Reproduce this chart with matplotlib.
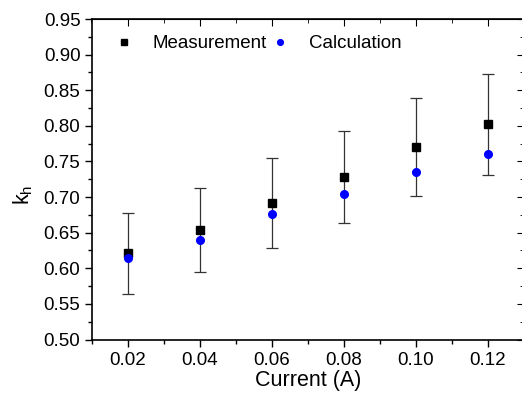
import numpy as np
import matplotlib.pyplot as plt

# data
current = [0.02, 0.04, 0.06, 0.08, 0.10, 0.12]
measurement = [0.621, 0.654, 0.692, 0.728, 0.770, 0.802]
meas_err = [0.057, 0.059, 0.063, 0.065, 0.069, 0.071]
calculation = [0.614, 0.640, 0.676, 0.704, 0.735, 0.760]

xticks = [0.02, 0.04, 0.06, 0.08, 0.10, 0.12]
yticks = np.arange(0.50, 0.951, 0.05)

plt.rcParams['font.family'] = ['Liberation Sans', 'DejaVu Sans']

fig = plt.figure(figsize=(5.22, 3.93), dpi=100)
ax = fig.add_axes([91.5 / 522, 1 - 339.5 / 393, (524 - 91.5) / 522, (339.5 - 19) / 393])

ax.errorbar(current, measurement, yerr=meas_err, fmt='none', ecolor='#333333',
            elinewidth=0.9, capsize=4, capthick=0.9, zorder=2)
ax.plot(current, measurement, 's', color='black', markersize=6, label='Measurement', zorder=3)
ax.plot(current, calculation, 'o', color='#0000ff', markersize=5.5, label='Calculation', zorder=4)

ax.set_xlim(0.01, 0.13)
ax.set_ylim(0.50, 0.95)
ax.set_xticks(xticks)
ax.set_xticklabels(['%.2f' % v for v in xticks])
ax.set_yticks(yticks)
ax.set_yticklabels(['%.2f' % v for v in yticks])
ax.set_xticks(np.arange(0.01, 0.131, 0.02), minor=True)
ax.set_yticks(np.arange(0.525, 0.95, 0.05), minor=True)

ax.tick_params(axis='both', which='both', labelsize=13.5, width=1)
ax.tick_params(axis='x', which='major', direction='out', length=5, top=False, pad=4)
ax.tick_params(axis='x', which='minor', direction='out', length=3, top=False)
ax.tick_params(axis='y', which='major', direction='out', length=5, right=False, pad=3)
ax.tick_params(axis='y', which='minor', direction='out', length=3, right=False)

# ticks on the top and right edges point inward
sec_x = ax.secondary_xaxis('top')
sec_x.set_xticks(xticks)
sec_x.set_xticks(np.arange(0.01, 0.131, 0.02), minor=True)
sec_x.tick_params(which='major', direction='in', length=5, labeltop=False)
sec_x.tick_params(which='minor', direction='in', length=3)
sec_y = ax.secondary_yaxis('right')
sec_y.set_yticks(yticks)
sec_y.set_yticks(np.arange(0.525, 0.95, 0.05), minor=True)
sec_y.tick_params(which='major', direction='in', length=5, labelright=False)
sec_y.tick_params(which='minor', direction='in', length=3)

for s in ax.spines.values():
    s.set_linewidth(1.2)

ax.set_xlabel('Current (A)', fontsize=15.5, labelpad=1)
ax.set_ylabel('k$_\\mathregular{h}$', fontsize=15.5)
ax.yaxis.set_label_coords(-0.13, 0.45)

ax.legend(loc='upper left', ncol=2, frameon=False, fontsize=13.5, handletextpad=1.0,
          columnspacing=0.25, borderaxespad=0.0, markerscale=0.75, handlelength=1.0,
          bbox_to_anchor=(0.036, 0.9725))

fig.savefig('out.png', dpi=100)
